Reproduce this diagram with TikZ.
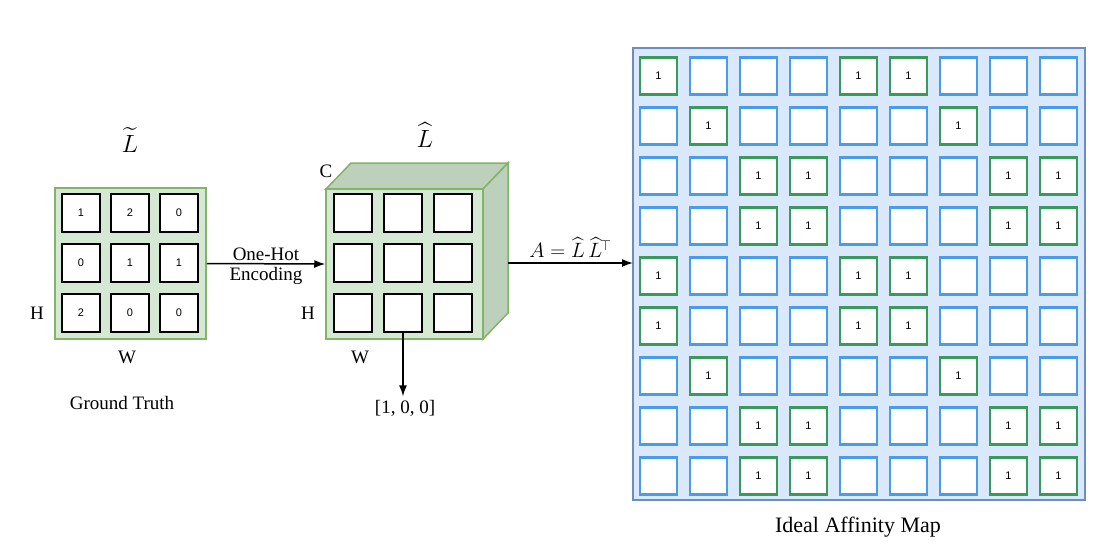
\documentclass[tikz,border=0pt]{standalone}
\usepackage{fontspec}
\setmainfont{Liberation Serif}
\setsansfont{Liberation Sans}
\usepackage{amsmath}
\usetikzlibrary{arrows.meta}
\definecolor{gstroke}{HTML}{82B366}
\definecolor{gfill}{HTML}{D5E8D4}
\definecolor{gdark}{HTML}{BDD0BC}
\definecolor{bstroke}{HTML}{6C8EBF}
\definecolor{bfill}{HTML}{DAE8FC}
\definecolor{cblue}{HTML}{4A9BE8}
\definecolor{cgreen}{HTML}{3A9A5E}
\begin{document}
\begin{tikzpicture}[x=1pt,y=-1pt,
  gbox/.style={draw=gstroke,fill=gfill,line width=1.5pt},
  cell/.style={draw=black,fill=white,line width=2.2pt,minimum size=38pt,inner sep=0pt,font=\sffamily\fontsize{11}{11}\selectfont},
  bcell/.style={draw=cblue,fill=white,line width=2.2pt,minimum size=37pt,inner sep=0pt,font=\sffamily\fontsize{11}{11}\selectfont},
  gcell/.style={bcell,draw=cgreen},
  lab/.style={font=\fontsize{19}{19}\selectfont},
  big/.style={font=\fontsize{36}{36}\selectfont},
  arr/.style={-{Latex[length=11pt,width=8pt]},line width=1.5pt}]
\useasboundingbox (0,0) rectangle (1112,558);
% left grid
\node[gbox,minimum width=151pt,minimum height=151pt,inner sep=0pt] (gt) at (130.5,263.5) {};
\foreach \r/\a/\b/\c [count=\i from 0] in {0/1/2/0,1/0/1/1,2/2/0/0}{
  \node[cell] (g\i0) at (81,213+50*\i) {\a};
  \node[cell] (g\i1) at (130,213+50*\i) {\b};
  \node[cell] (g\i2) at (179,213+50*\i) {\c};
}
\node[big] (lt) at (130,140) {$\widetilde{L}$};
\node[lab] (h1) at (37,313) {H};
\node[lab] (w1) at (127,357) {W};
\node[lab] (gtl) at (122,403) {Ground Truth};
% cube
\draw[gbox,fill=gdark] (326,189) -- (351,163) -- (508,163) -- (483,189) -- cycle;
\draw[gbox,fill=gdark] (483,189) -- (508,163) -- (508,313) -- (483,339) -- cycle;
\node[gbox,minimum width=157pt,minimum height=150pt,inner sep=0pt] (cube) at (404.5,264) {};
\foreach \i in {0,1,2}{\foreach \j in {0,1,2}{
  \node[cell] (c\i\j) at (353+50*\j,213+50*\i) {};}}
\node[big] (lh) at (425,135) {$\widehat{L}$};
\node[lab] (cl) at (326,171) {C};
\node[lab] (h2) at (308,313) {H};
\node[lab] (w2) at (360,357) {W};
\node[lab] (vec) at (405,408) {[1, 0, 0]};
\draw[arr] (c21.south) -- (c21.south |- vec.north);
\draw[arr] (gt.east) -- node[above=-1pt,lab]{One-Hot} node[below=-1pt,lab]{Encoding} (cube.west);
% map
\node[draw=bstroke,fill=bfill,line width=1.5pt,minimum width=452pt,minimum height=452pt,inner sep=0pt] (map) at (859,274) {};
\coordinate (bs) at (508,263);
\coordinate (be) at (633,263);
\draw[arr] (bs) -- node[above=1pt,font=\fontsize{20}{20}\selectfont]{$A=\widehat{L}\,\widehat{L}^{\!\top}$} (be);
\foreach \row [count=\i from 0] in {{0,4,5},{1,6},{2,3,7,8},{2,3,7,8},{0,4,5},{0,4,5},{1,6},{2,3,7,8},{2,3,7,8}}{
  \foreach \j in {0,...,8}{
    \def\isg{0}
    \foreach \k in \row {\ifnum\k=\j\gdef\isg{1}\fi}
    \ifnum\isg=1
      \node[gcell] (m\i\j) at (658.5+50*\j,76+50*\i) {1};
    \else
      \node[bcell] (m\i\j) at (658.5+50*\j,76+50*\i) {};
    \fi
  }}
\node[font=\fontsize{22}{22}\selectfont] (ttl) at (858,527) {Ideal Affinity Map};
\end{tikzpicture}
\end{document}
